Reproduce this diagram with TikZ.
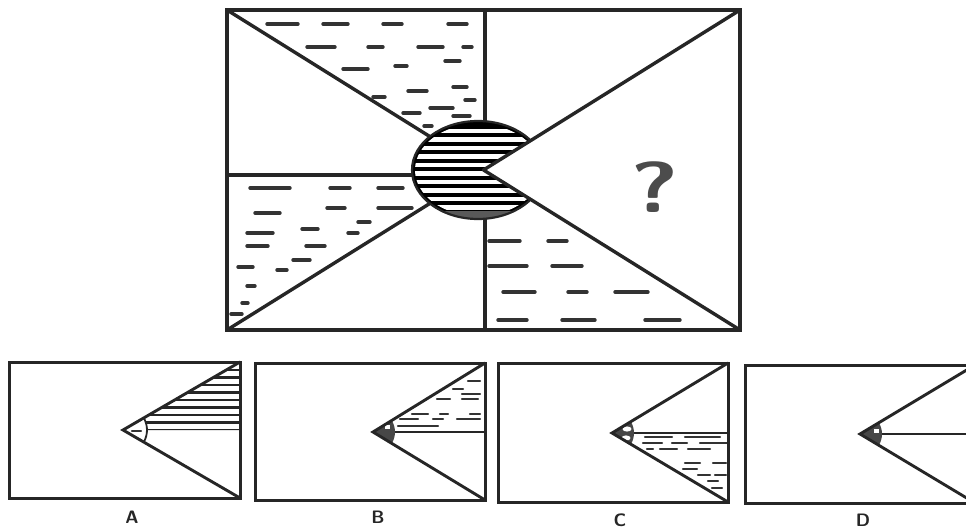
\documentclass[tikz,border=0pt]{standalone}
\tikzset{
  frame/.style={line width=4.6pt, draw=black!85},
  divide/.style={line width=3.4pt, draw=black!85, line cap=round},
  ripple/.style={line width=3.4pt, draw=black!80, line cap=round},
  smallripple/.style={line width=2.2pt, draw=black!80, line cap=round},
  optframe/.style={line width=3pt, draw=black!85},
  optline/.style={line width=2.9pt, draw=black!85, line cap=round},
  midline/.style={line width=1.7pt, draw=black!85},
  tipfill/.style={fill=black!72},
  optlabel/.style={font=\sffamily\bfseries\fontsize{18}{18}\selectfont, text=black!85},
}
\begin{document}
\begin{tikzpicture}[x=1pt, y=-1pt]
\useasboundingbox (0,0) rectangle (966,532);
% main panel corners
\coordinate (tl) at (227,10);
\coordinate (tr) at (740,10);
\coordinate (bl) at (227,330);
\coordinate (br) at (740,330);
\coordinate (mid) at (483.5,170);
% water dashes
\foreach \xa/\xb/\yy in {267/298/24, 323/348/24, 383/402/24, 448/467/24,
  307/335/47, 368/383/47, 418/443/47, 463/472/47,
  445/460/61, 395/407/66, 343/368/69,
  453/467/87, 408/427/91, 373/385/97, 465/475/100,
  430/453/108, 403/420/113, 453/470/116, 424/432/126,
  250/290/188, 330/350/188, 378/403/188,
  327/345/208, 378/412/208, 255/280/213,
  358/370/222, 302/318/229, 247/273/233, 348/358/233,
  247/268/246, 306/325/246, 293/310/260, 238/253/267, 277/287/270,
  247/255/286, 242/248/303, 231/242/314,
  489/520/241, 548/567/241, 489/527/266, 552/582/266,
  503/535/292, 568/587/292, 615/648/292,
  498/527/320, 562/595/320, 645/680/320}
  \draw[ripple] (\xa,\yy) -- (\xb,\yy);
% dividing lines
\draw[divide] (485,10) -- (485,330);
\draw[divide] (227,175) -- (485,175);
\draw[divide] (tl) -- (mid);
\draw[divide] (bl) -- (mid);
% striped disc
\fill[black] (478,170) ellipse [x radius=66, y radius=49];
\begin{scope}
  \clip (478,170) ellipse [x radius=63, y radius=46];
  \foreach \k in {0,...,9}
    \draw[white, line width=4.2pt] (400,131+8.5*\k) -- (560,131+8.5*\k);
\end{scope}
\begin{scope}
  \clip (478,170) ellipse [x radius=66, y radius=49];
  \fill[black!65] (400,211) rectangle (560,230);
\end{scope}
\draw[line width=2.2pt, black!85] (478,170) ellipse [x radius=66, y radius=49];
\fill[white] (mid) -- (tr) -- (br) -- cycle;
\draw[divide] (mid) -- (tr);
\draw[divide] (mid) -- (br);
\draw[frame] (tl) rectangle (br);
\node[font=\sffamily\bfseries\fontsize{72}{72}\selectfont, text=black!70, xscale=1.3] (ask) at (655,187) {?};

% option A
\coordinate (Atl) at (9,362);
\coordinate (Atr) at (240,362);
\coordinate (Abr) at (240,498);
\coordinate (Atip) at (123,430);
\begin{scope}
  \clip (Atip) -- (Atr) -- (240,430) -- cycle;
  \foreach \yy in {430,422.5,...,360}
    \draw[line width=2.4pt, black!85] (100,\yy) -- (245,\yy);
\end{scope}
\fill[white] (Atip) -- ++(31:24) arc[start angle=31, end angle=-31, radius=24] -- cycle;
\draw[line width=1.8pt, black!85] (Atip) ++(31:24) arc[start angle=31, end angle=-31, radius=24];
\draw[smallripple] (132,431) -- (141,431);
\draw[optline] (Atr) -- (Atip) -- (Abr);
\draw[optframe] (Atl) rectangle (Abr);
\node[optlabel] (labA) at (132,517) {A};

% option B
\coordinate (Btl) at (255,363);
\coordinate (Btr) at (485,363);
\coordinate (Bbr) at (485,500);
\coordinate (Btip) at (373,432);
\foreach \xa/\xb/\yy in {468/480/381, 453/463/389, 462/480/394, 437/450/399,
  462/478/399, 412/428/414, 440/448/414, 470/480/414,
  400/418/419, 433/443/419, 457/480/419, 398/438/426}
  \draw[smallripple] (\xa,\yy) -- (\xb,\yy);
\draw[midline] (Btip) -- (485,432);
\fill[tipfill] (Btip) -- ++(31:22) arc[start angle=31, end angle=-31, radius=22] -- cycle;
\fill[white] (385,425) rectangle (390,429);
\draw[optline] (Btr) -- (Btip) -- (Bbr);
\draw[optframe] (Btl) rectangle (Bbr);
\node[optlabel] (labB) at (378,517) {B};

% option C
\coordinate (Ctl) at (498,363);
\coordinate (Ctr) at (728,363);
\coordinate (Cbr) at (728,502);
\coordinate (Ctip) at (612,433);
\foreach \xa/\xb/\yy in {645/672/437, 685/720/437, 643/662/443, 672/687/443,
  700/727/443, 647/653/449, 660/677/449, 688/710/449,
  685/700/463, 713/726/463, 683/697/469, 698/710/475,
  715/726/475, 708/718/481, 712/722/488}
  \draw[smallripple] (\xa,\yy) -- (\xb,\yy);
\draw[midline] (Ctip) -- (728,433);
\fill[tipfill] (Ctip) -- ++(31:22) arc[start angle=31, end angle=-31, radius=22] -- cycle;
\fill[white] (627,429) ellipse [x radius=4.5, y radius=2.6];
\fill[white] (626,438) ellipse [x radius=4.5, y radius=2.6];
\draw[optline] (Ctr) -- (Ctip) -- (Cbr);
\draw[optframe] (Ctl) rectangle (Cbr);
\node[optlabel] (labC) at (620,520) {C};

% option D
\coordinate (Dtl) at (745,365);
\coordinate (Dtr) at (975,365);
\coordinate (Dbr) at (975,503);
\coordinate (Dtip) at (860,434);
\draw[midline] (Dtip) -- (975,434);
\fill[tipfill] (Dtip) -- ++(31:22) arc[start angle=31, end angle=-31, radius=22] -- cycle;
\fill[white] (874,429) rectangle (879,433);
\draw[optline] (Dtr) -- (Dtip) -- (Dbr);
\draw[optframe] (Dtl) rectangle (Dbr);
\node[optlabel] (labD) at (863,520) {D};
\end{tikzpicture}
\end{document}
